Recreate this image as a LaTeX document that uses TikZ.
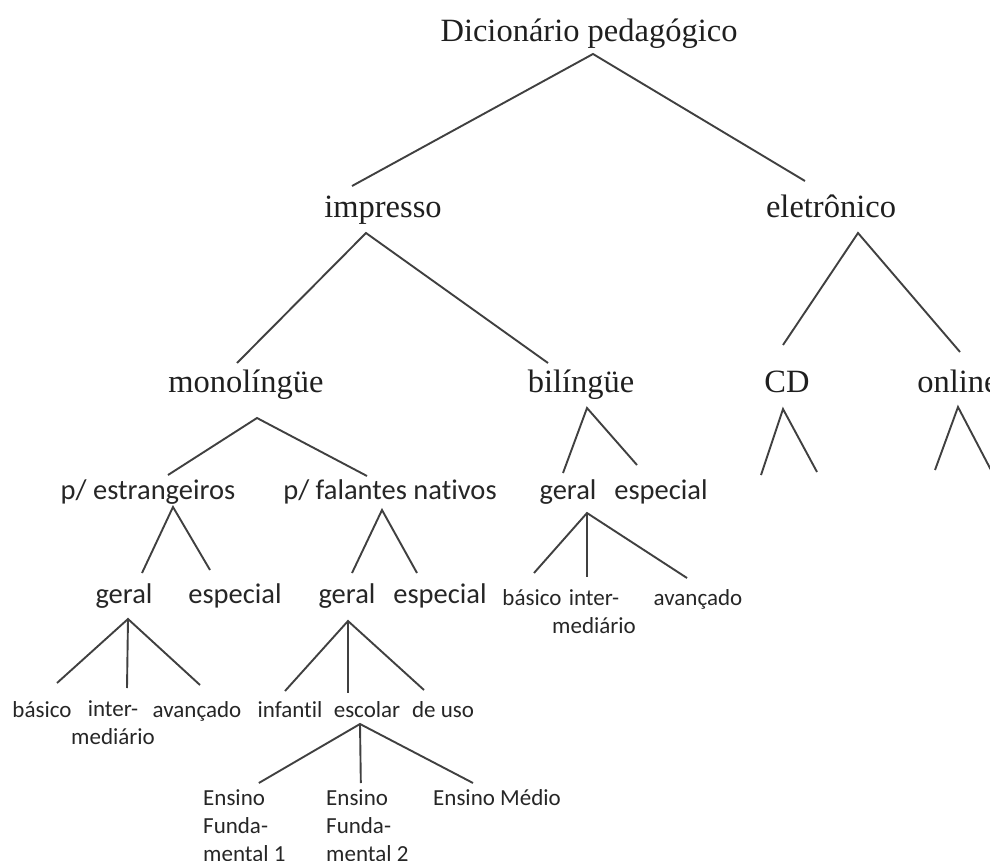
\documentclass[tikz,border=0pt]{standalone}
\usepackage{fontspec}
\setmainfont{Liberation Serif}
\newfontfamily\calibri[Ligatures=NoCommon]{Carlito}

\tikzset{
  big/.style={font=\fontsize{32.5}{34}\selectfont, inner sep=0pt, anchor=base, text=black!88},
  mid/.style={font=\calibri\fontsize{28.5}{30}\selectfont, inner sep=0pt, anchor=base, text=black!85},
  small/.style={font=\calibri\fontsize{23}{28}\selectfont, inner sep=0pt, anchor=base, align=center, text=black!85},
  leg/.style={draw=black!75, line width=1.9pt}
}

\begin{document}
\begin{tikzpicture}[x=1pt, y=-1pt]
        \useasboundingbox (0,0) rectangle (990,861);
        % serif levels
        \node[big] (dic) at (589,42) {Dicionário pedagógico};
        \node[big] (imp) at (383,217) {impresso};
        \node[big] (ele) at (831,217) {eletrônico};
        \node[big] (mono) at (246,392) {monolíngüe};
        \node[big] (bil) at (581,392) {bilíngüe};
        \node[big] (cd) at (787,392) {CD};
        \node[big] (onl) at (958,392) {online};
        % sans levels
        \node[mid] (estr) at (148,499) {p/ estrangeiros};
        \node[mid] (nat) at (390,499) {p/ falantes nativos};
        \node[mid] (bgen) at (568,499) {geral};
        \node[mid] (bspe) at (661,499) {especial};
        \node[mid] (egen) at (124,603) {geral};
        \node[mid] (espe) at (235,603) {especial};
        \node[mid] (ngen) at (347,603) {geral};
        \node[mid] (nspe) at (440,603) {especial};
        % small labels
        \node[small] (bbas) at (532,605) {básico};
        \node[small, anchor=north] (bint) at (594,589) {inter-\\mediário};
        \node[small] (bava) at (698,605) {avançado};
        \node[small] (ebas) at (42,717) {básico};
        \node[small, anchor=north] (eint) at (113,700) {inter-\\mediário};
        \node[small] (eava) at (197,717) {avançado};
        \node[small] (inf) at (290,717) {infantil};
        \node[small] (esc) at (367,717) {escolar};
        \node[small] (uso) at (443,717) {de uso};
        \node[small, anchor=north west, align=left] (ef1) at (203,789) {Ensino\\Funda-\\mental 1};
        \node[small, anchor=north west, align=left] (ef2) at (326,789) {Ensino\\Funda-\\mental 2};
        \node[small] (med) at (497,805) {Ensino Médio};
        % free ends under CD and online
        \coordinate (cdl) at (761,475);
        \coordinate (cdr) at (817,472);
        \coordinate (onll) at (935,470);
        \coordinate (onlr) at (992,472);

        \draw[leg] ([shift={(-31,-31)}]imp.base) -- ([shift={(4,12)}]dic.base) -- ([shift={(-26,-36)}]ele.base);
        \draw[leg] ([shift={(-9,-29)}]mono.base) -- ([shift={(-17,16)}]imp.base) -- ([shift={(-33,-29)}]bil.base);
        \draw[leg] ([shift={(-4,-47)}]cd.base) -- ([shift={(27,16)}]ele.base) -- ([shift={(2,-40)}]onl.base);
        \draw[leg] ([shift={(20,-24)}]estr.base) -- ([shift={(11,26)}]mono.base) -- ([shift={(-23,-23)}]nat.base);
        \draw[leg] ([shift={(-5,-26)}]bgen.base) -- ([shift={(6,16)}]bil.base) -- ([shift={(-24,-34)}]bspe.base);
        \draw[leg] (cdl) -- ([shift={(-4,17)}]cd.base) -- (cdr);
        \draw[leg] (onll) -- ([shift={(0,15)}]onl.base) -- (onlr);
        \draw[leg] ([shift={(18,-30)}]egen.base) -- ([shift={(25,8)}]estr.base) -- ([shift={(-25,-33)}]espe.base);
        \draw[leg] ([shift={(5,-30)}]ngen.base) -- ([shift={(-8,11)}]nat.base) -- ([shift={(-23,-30)}]nspe.base);
        \draw[leg] ([shift={(2,-32)}]bbas.base) -- ([shift={(19,14)}]bgen.base) -- ([shift={(-11,-27)}]bava.base);
        \draw[leg] ([shift={(19,14)}]bgen.base) -- ([shift={(-7,-12)}]bint.north);
        \draw[leg] ([shift={(15,-34)}]ebas.base) -- ([shift={(4,16)}]egen.base) -- ([shift={(3,-32)}]eava.base);
        \draw[leg] ([shift={(4,16)}]egen.base) -- ([shift={(14,-12)}]eint.north);
        \draw[leg] ([shift={(-5,-26)}]inf.base) -- ([shift={(1,18)}]ngen.base) -- ([shift={(-19,-27)}]uso.base);
        \draw[leg] ([shift={(1,18)}]ngen.base) -- ([shift={(-19,-24)}]esc.base);
        \draw[leg] ([shift={(14.5,-6)}]ef1.north) -- ([shift={(-7,7)}]esc.base) -- ([shift={(-24,-22)}]med.base);
        \draw[leg] ([shift={(-7,7)}]esc.base) -- ([shift={(-6.5,-6)}]ef2.north);
\end{tikzpicture}
\end{document}
